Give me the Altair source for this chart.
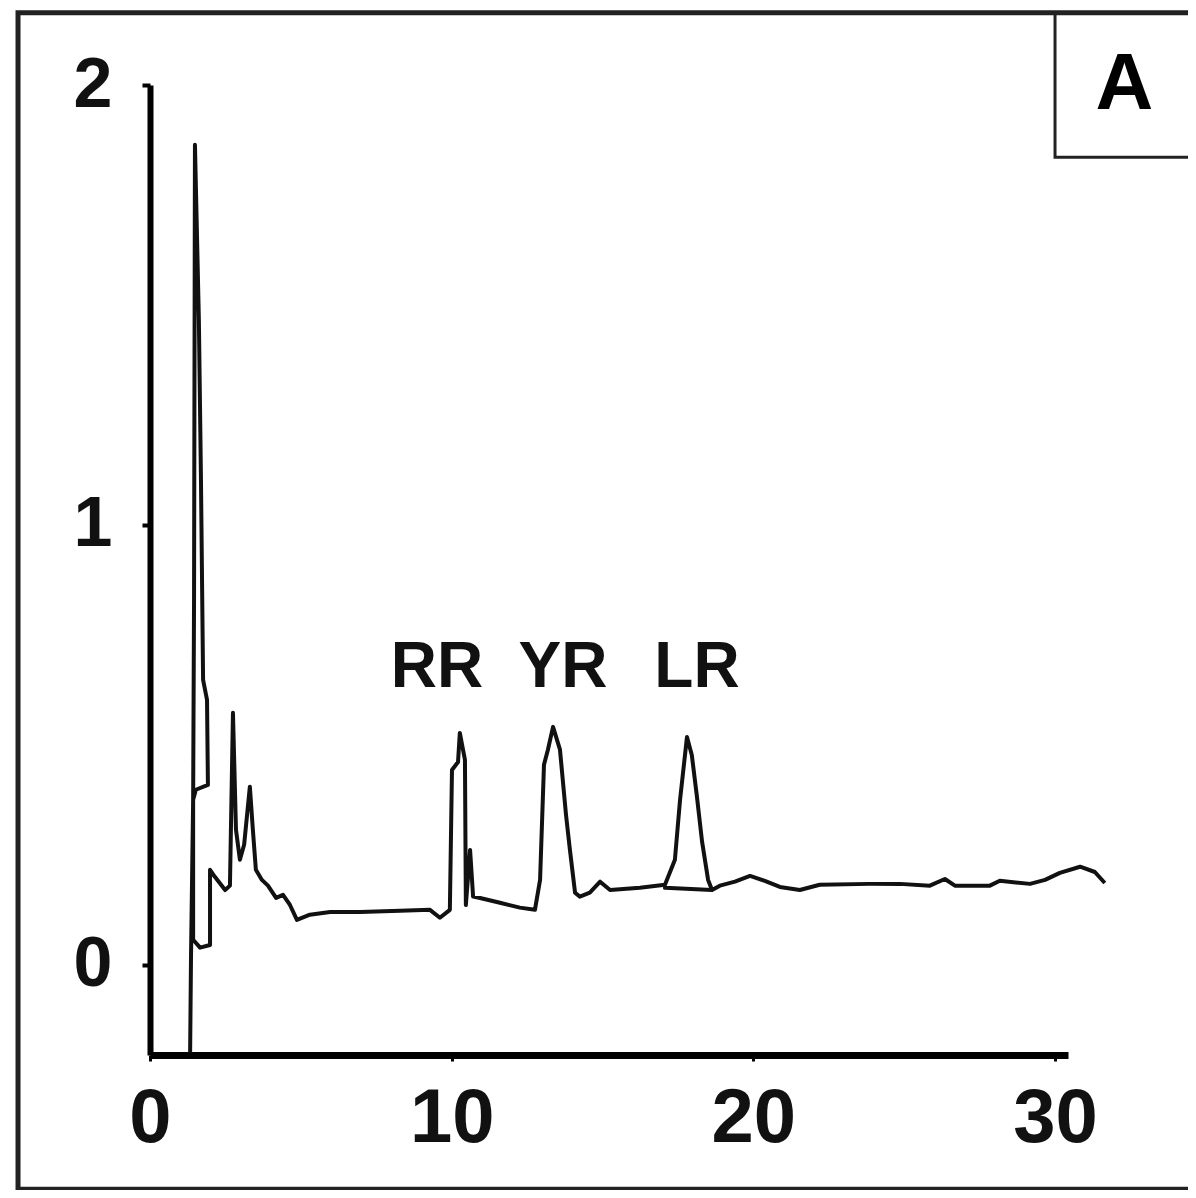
import altair as alt
import pandas as pd

# ---- chromatogram trace (retention time in min, absorbance) ----
time_min = [1.33, 1.36, 1.43, 1.46, 1.49, 1.62, 1.69, 1.76, 1.89, 1.92,
            1.52, 1.43, 1.43, 1.66, 1.99, 1.99, 2.15, 2.49, 2.65, 2.75,
            2.85, 2.98, 3.12, 3.31, 3.41, 3.51, 3.71, 3.91, 4.18, 4.41,
            4.64, 4.87, 5.30, 5.97, 6.96, 8.29, 9.28, 9.61, 9.94, 10.01,
            10.21, 10.27, 10.44, 10.47, 10.61, 10.71, 10.94, 11.60, 12.26, 12.76,
            12.93, 13.06, 13.19, 13.36, 13.59, 13.79, 13.92, 14.09, 14.25, 14.58,
            14.92, 15.25, 16.24, 17.07, 17.40, 17.57, 17.80, 17.96, 18.13, 18.30,
            18.50, 18.63, 17.07, 18.63, 18.89, 19.39, 19.89, 20.38, 20.88, 21.54,
            22.20, 23.86, 24.86, 25.85, 26.35, 26.68, 27.84, 28.17, 29.17, 29.67,
            30.16, 30.83, 31.32, 31.65]
absorbance = [-0.20, 0.023, 0.375, 0.83, 1.864, 1.466, 1.10, 0.648, 0.602, 0.409,
              0.398, 0.375, 0.057, 0.039, 0.045, 0.216, 0.200, 0.170, 0.180, 0.573,
              0.307, 0.239, 0.273, 0.405, 0.307, 0.216, 0.193, 0.180, 0.152, 0.159,
              0.136, 0.102, 0.114, 0.120, 0.120, 0.123, 0.125, 0.107, 0.125, 0.443,
              0.461, 0.527, 0.466, 0.136, 0.261, 0.155, 0.152, 0.141, 0.130, 0.125,
              0.193, 0.455, 0.489, 0.541, 0.489, 0.341, 0.261, 0.164, 0.155, 0.164,
              0.189, 0.170, 0.175, 0.182, 0.239, 0.375, 0.518, 0.477, 0.382, 0.280,
              0.193, 0.170, 0.175, 0.170, 0.180, 0.189, 0.202, 0.191, 0.177, 0.170,
              0.182, 0.184, 0.184, 0.180, 0.195, 0.180, 0.180, 0.191, 0.184, 0.193,
              0.209, 0.223, 0.211, 0.186]

# ---- peak labels ----
peak_names = ["RR", "YR", "LR"]
peak_time = [9.51, 13.69, 18.13]
peak_label_y = [0.675, 0.675, 0.675]

# ---- axis ticks ----
x_ticks = [0, 10, 20, 30]
y_ticks = [0, 1, 2]

# ---- panel letter ----
panel_letter = ["A"]

X_DOMAIN = [0, 30.43]
Y_DOMAIN = [-0.205, 2.0]

trace = pd.DataFrame({"x": time_min, "y": absorbance, "i": list(range(len(time_min)))})
peaks = pd.DataFrame({"x": peak_time, "y": peak_label_y, "label": peak_names})
frame = pd.DataFrame({"x": [-4.375], "x2": [34.7], "y": [2.164], "y2": [-0.51]})
letter_box = pd.DataFrame({"x": [30.0], "x2": [34.7], "y": [2.164], "y2": [1.836]})
letter = pd.DataFrame({"x": [32.3], "y": [2.0], "label": panel_letter})

FONT = "Liberation Sans"

x_axis = alt.Axis(values=x_ticks, title=None, grid=False, domainColor="black", domainWidth=7,
                  tickColor="black", tickWidth=3, tickSize=6, labelFont=FONT,
                  labelFontSize=76, labelFontWeight="bold", labelColor="#111",
                  labelPadding=20, labelFlush=False, labelOverlap=False)
y_axis = alt.Axis(values=y_ticks, title=None, grid=False, domainColor="black", domainWidth=6,
                  tickColor="black", tickWidth=4, tickSize=8, labelFont=FONT,
                  labelFontSize=70, labelFontWeight="bold", labelColor="#111",
                  labelPadding=30, labelFlush=False, labelOverlap=False, format="d")

xs = alt.Scale(domain=X_DOMAIN, nice=False, zero=False)
ys = alt.Scale(domain=Y_DOMAIN, nice=False, zero=False)

def X():
    return alt.X("x:Q", scale=xs, axis=x_axis)

def Y():
    return alt.Y("y:Q", scale=ys, axis=y_axis)

frame_layer = alt.Chart(frame).mark_rect(filled=False, stroke="#222", strokeWidth=5).encode(
    x=X(), x2="x2:Q", y=Y(), y2="y2:Q")
box_layer = alt.Chart(letter_box).mark_rect(filled=False, stroke="#222", strokeWidth=3).encode(
    x=X(), x2="x2:Q", y=Y(), y2="y2:Q")
letter_layer = alt.Chart(letter).mark_text(font=FONT, fontWeight="bold", fontSize=80,
                                           align="center", baseline="middle", color="black").encode(
    x=X(), y=Y(), text="label:N")
line_layer = alt.Chart(trace).mark_line(color="#111", strokeWidth=4, strokeJoin="round").encode(
    x=X(), y=Y(), order="i:Q")
label_layer = alt.Chart(peaks).mark_text(font=FONT, fontWeight="bold", fontSize=64,
                                         align="center", baseline="middle", color="#111").encode(
    x=X(), y=Y(), text="label:N")

chart = alt.layer(frame_layer, box_layer, letter_layer, line_layer, label_layer).properties(
    width=918, height=970,
    autosize=alt.AutoSizeParams(type="none"),
    padding={"left": 142, "top": 77, "right": 120, "bottom": 135},
    background="white",
).configure_view(strokeWidth=0)

chart.save("out.html", embed_options={"renderer": "svg", "actions": False})
